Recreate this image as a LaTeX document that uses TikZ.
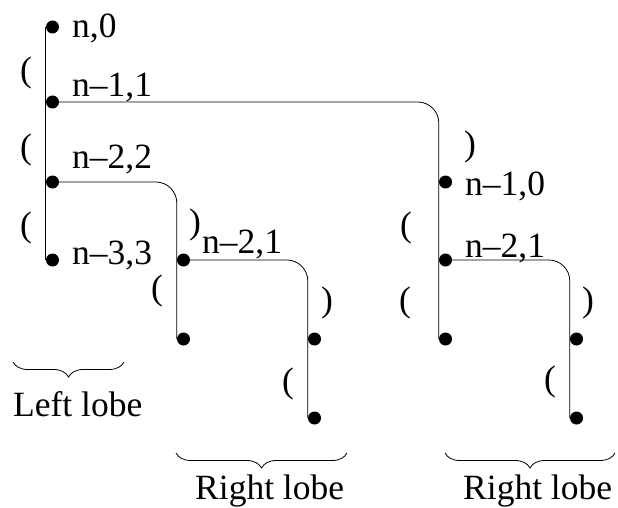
\documentclass[tikz,border=0pt]{standalone}
\usepackage{fontspec}
\setmainfont{Liberation Serif}
\usetikzlibrary{decorations.pathreplacing}
\begin{document}
\begin{tikzpicture}[x=1pt,y=-1pt,
  dotnode/.style={circle,fill=black,inner sep=0pt,minimum size=13pt},
  lbl/.style={anchor=base west,inner sep=0pt,font=\fontsize{35.5}{42}\selectfont},
  parn/.style={inner sep=0pt,font=\fontsize{35.5}{42}\selectfont},
  edge/.style={line width=0.8pt,rounded corners=21pt},
  brc/.style={decorate,decoration={brace,mirror,amplitude=15pt},line width=0.8pt}]
\useasboundingbox (0,0) rectangle (618,508);
% dots
\node[dotnode] (a0) at (52.5,27) {};
\node[dotnode] (a1) at (52.5,102) {};
\node[dotnode] (a2) at (52.5,182) {};
\node[dotnode] (a3) at (52.5,260) {};
\node[dotnode] (b1) at (183.5,260) {};
\node[dotnode] (b2) at (183.5,339) {};
\node[dotnode] (c1) at (314.5,339) {};
\node[dotnode] (c2) at (314.5,418) {};
\node[dotnode] (d0) at (445.5,182) {};
\node[dotnode] (d1) at (445.5,260) {};
\node[dotnode] (d2) at (445.5,339) {};
\node[dotnode] (e1) at (576.5,339) {};
\node[dotnode] (e2) at (576.5,418) {};
% connectors
\draw[edge] (a0.west) -- (a3.west);
\draw[edge] (a1.west) -| (d2.west);
\draw[edge] (a2.west) -| (b2.west);
\draw[edge] (b1.west) -| (c2.west);
\draw[edge] (d1.west) -| (e2.west);
% labels
\node[lbl] (l1) at (72,38) {n,0};
\node[lbl] (l2) at (72,97) {n–1,1};
\node[lbl] (l3) at (72,168) {n–2,2};
\node[lbl] (l4) at (72,264) {n–3,3};
\node[lbl] (l5) at (202,253) {n–2,1};
\node[lbl] (l6) at (465,195) {n–1,0};
\node[lbl] (l7) at (465,257) {n–2,1};
% parentheses
\node[parn] (p1) at (26,73) {(};
\node[parn] (p2) at (26,150) {(};
\node[parn] (p3) at (26,228) {(};
\node[parn] (p4) at (195,225) {)};
\node[parn] (p5) at (157,291) {(};
\node[parn] (p6) at (327,303) {)};
\node[parn] (p7) at (288,384) {(};
\node[parn] (p8) at (470,147) {)};
\node[parn] (p9) at (406,228) {(};
\node[parn] (p10) at (405,303) {(};
\node[parn] (p11) at (588,303) {)};
\node[parn] (p12) at (550,382) {(};
% braces
\coordinate (bl1) at (13,362);
\coordinate (bl2) at (124,362);
\coordinate (br1) at (176,453);
\coordinate (br2) at (347,453);
\coordinate (bs1) at (445,453);
\coordinate (bs2) at (615,453);
\draw[brc] (bl1) -- (bl2);
\draw[brc] (br1) -- (br2);
\draw[brc] (bs1) -- (bs2);
\node[lbl] (t1) at (13,416) {Left lobe};
\node[lbl] (t2) at (195,499) {Right lobe};
\node[lbl] (t3) at (463,499) {Right lobe};
\end{tikzpicture}
\end{document}
